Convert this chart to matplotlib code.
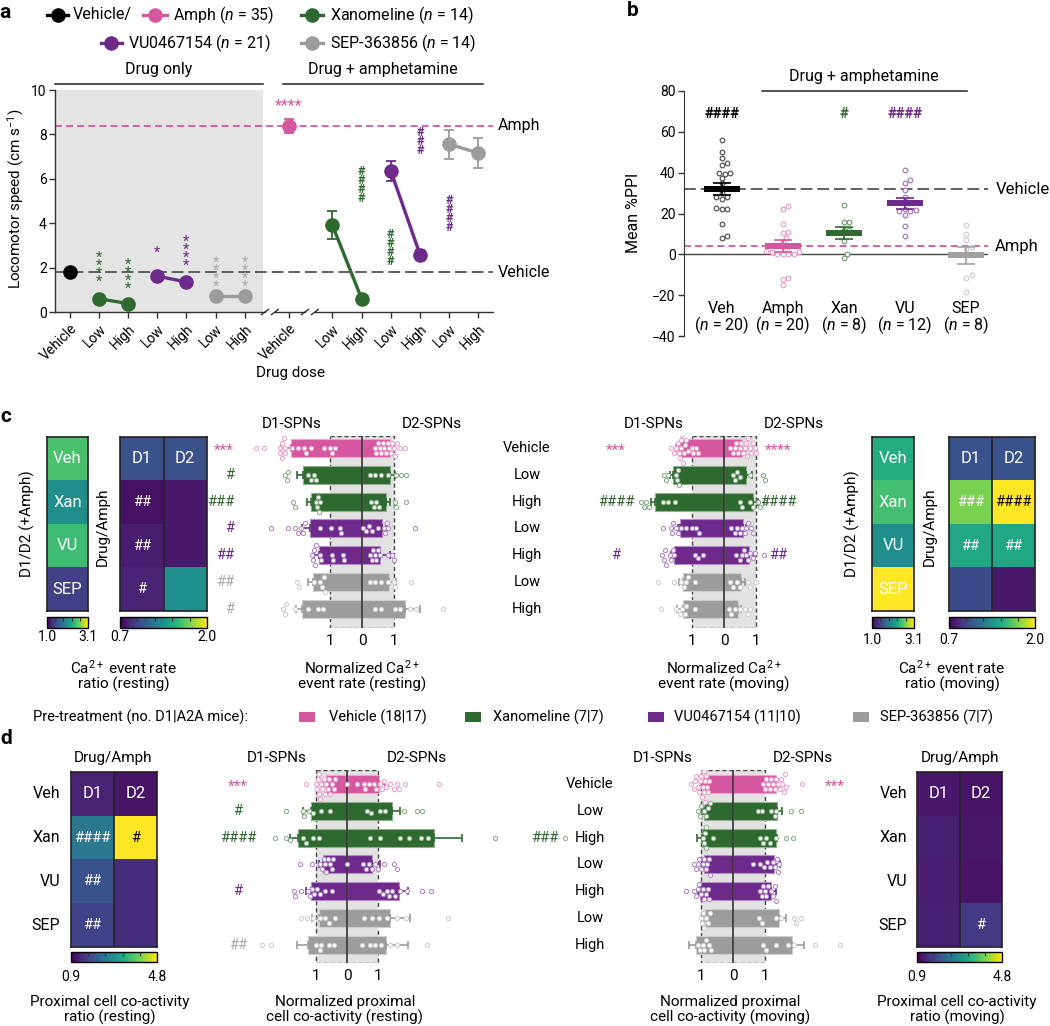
import numpy as np
import matplotlib
matplotlib.use('Agg')
import matplotlib.pyplot as plt
from matplotlib.lines import Line2D
from matplotlib.patches import Rectangle
from matplotlib.cm import ScalarMappable
from matplotlib.colors import Normalize

plt.rcParams['font.family'] = ['Roboto', 'DejaVu Sans']
plt.rcParams['mathtext.fontset'] = 'custom'
plt.rcParams['mathtext.rm'] = 'Roboto'
plt.rcParams['mathtext.it'] = 'Roboto:italic'
plt.rcParams['mathtext.bf'] = 'Roboto:bold'
plt.rcParams['lines.scale_dashes'] = False
plt.rcParams['axes.unicode_minus'] = True

# ---------------- DATA ----------------
# Panel a
a_positions = [0, 1, 2, 3, 4, 5, 6, 7.5, 9, 10, 11, 12, 13, 14]
a_ticklabels = ['Vehicle', 'Low', 'High', 'Low', 'High', 'Low', 'High',
                'Vehicle', 'Low', 'High', 'Low', 'High', 'Low', 'High']
a_vehicle = 1.8
a_only_xan = [0.6, 0.38]
a_only_vu = [1.62, 1.35]
a_only_sep = [0.71, 0.71]
a_amph = 8.38
a_amph_err = 0.3
a_amph_xan = [3.91, 0.6]
a_amph_xan_err = [0.63, 0.08]
a_amph_vu = [6.36, 2.59]
a_amph_vu_err = [0.44, 0.2]
a_amph_sep = [7.56, 7.16]
a_amph_sep_err = [0.66, 0.66]

# Panel b
b_groups = ['Veh', 'Amph', 'Xan', 'VU', 'SEP']
b_n = [20, 20, 8, 12, 8]
b_means = [32, 4, 10.5, 25, -0.5]
b_sem = [3.0, 2.8, 3.0, 2.6, 4.2]
b_veh_pts = [56, 50, 47, 44.5, 44, 40, 40, 39.5, 37.5, 35, 30, 28, 28, 27, 22.5, 22, 22, 15, 8, 9]
b_amph_pts = [23.5, 22, 15, 11, 10.5, 8, 6, 4, 3.5, 3.5, 1.5, 1, 1, 0, 0, 0, 0, -11.5, -12, -15]
b_xan_pts = [24, 16, 16, 12, 12, 6.5, 0, -2]
b_vu_pts = [41.5, 36.5, 35, 31.5, 28, 22, 21.5, 21, 21, 19.5, 14, 9]
b_sep_pts = [14.5, 10, 7, 3.5, 2.5, -10, -11.5, -18.5]

# Panel c/d rows
row_labels = ['Vehicle', 'Low', 'High', 'Low', 'High', 'Low', 'High']
heat_rows = ['Veh', 'Xan', 'VU', 'SEP']

# Panel c heatmaps
c_rest_ratio = [2.5, 2.05, 2.45, 1.4]
c_rest_drug = [[1.02, 1.02], [0.76, 0.79], [0.80, 0.79], [0.83, 1.35]]
c_mov_ratio = [2.3, 2.47, 2.05, 3.1]
c_mov_drug = [[1.03, 1.03], [1.74, 2.0], [1.48, 1.48], [0.99, 0.79]]
# Panel d heatmaps
d_rest_drug = [[1.29, 1.1], [2.46, 4.8], [1.88, 1.41], [1.68, 1.41]]
d_mov_drug = [[1.15, 1.1], [1.25, 1.15], [1.2, 1.1], [1.25, 1.56]]

# Panel c resting butterfly
c_rest_d1 = [-2.21, -1.84, -1.58, -1.625, -1.34, -1.53, -1.875]
c_rest_d1_sem = [0.31, 0.19, 0.13, 0.25, 0.16, 0.16, 0.175]
c_rest_d2 = [0.885, 0.86, 0.74, 0.625, 0.57, 0.83, 1.35]
c_rest_d2_sem = [0.12, 0.17, 0.13, 0.13, 0.3, 0.22, 0.45]
c_rest_d1_pts = [
    [-3.3, -3.05, -2.55, -2.55, -2.5, -2.5, -2.45, -2.4, -2.4, -2.2, -2.0, -1.8, -1.75, -1.6, -1.2, -1.0, -0.95, -0.85],
    [-2.42, -2.35, -2.3, -1.7, -1.6, -1.5, -1.45],
    [-2.16, -2.1, -1.45, -1.4, -1.38, -1.35, -1.3],
    [-2.83, -2.31, -2.1, -2.0, -1.9, -1.84, -1.79, -1.32, -0.98, -0.7, -0.67],
    [-1.55, -1.53, -1.5, -1.48, -1.45, -1.3, -1.27, -0.95, -0.9, -0.6, -0.55],
    [-2.02, -1.98, -1.5, -1.3, -1.24, -1.2, -1.17],
    [-2.47, -2.4, -2.36, -2.1, -1.7, -1.38, -1.22]]
c_rest_d2_pts = [
    [0.4, 0.45, 0.5, 0.55, 0.6, 0.65, 0.7, 0.75, 0.8, 0.85, 0.9, 0.95, 1.0, 1.02, 1.1, 1.18, 1.33],
    [0.24, 0.4, 0.6, 0.81, 1.07, 1.23, 1.39],
    [0.29, 0.375, 0.45, 0.52, 1.02, 1.05, 1.39],
    [0.02, 0.14, 0.22, 0.3, 0.5, 0.68, 0.72, 0.78, 0.82, 1.67],
    [0.24, 0.3, 0.34, 0.4, 0.45, 0.5, 0.55, 0.8, 0.95, 1.0],
    [0.26, 0.4, 0.58, 0.8, 1.0, 1.02, 1.52],
    [0.4, 0.6, 1.04, 1.2, 1.5, 1.7, 2.53]]

# Panel c moving butterfly
c_mov_d1 = [-1.41, -1.59, -2.15, -1.36, -1.57, -1.28, -1.29]
c_mov_d1_sem = [0.08, 0.09, 0.12, 0.08, 0.08, 0.14, 0.17]
c_mov_d2 = [0.57, 0.70, 0.91, 0.59, 0.78, 0.53, 0.44]
c_mov_d2_sem = [0.11, 0.17, 0.15, 0.11, 0.18, 0.12, 0.10]
c_mov_d1_pts = [
    [-1.65, -1.55, -1.5, -1.45, -1.41, -1.38, -1.35, -1.33, -1.3, -1.28, -1.25, -1.23, -1.18, -1.13, -1.0, -0.97, -0.86, -0.81],
    [-1.89, -1.82, -1.75, -1.5, -1.47, -1.44, -1.4],
    [-2.58, -2.5, -2.43, -2.35, -1.9, -1.75, -1.54],
    [-1.9, -1.65, -1.62, -1.59, -1.51, -1.45, -1.33, -1.18, -1.0, -0.86, -0.78],
    [-1.93, -1.89, -1.85, -1.8, -1.7, -1.65, -1.6, -1.55, -0.92, -0.8, -0.66],
    [-2.06, -1.56, -1.33, -1.25, -1.18, -1.13, -0.92],
    [-1.96, -1.49, -1.39, -1.3, -1.23, -1.18, -0.92]]
c_mov_d2_pts = [
    [0.2, 0.28, 0.35, 0.39, 0.45, 0.49, 0.54, 0.6, 0.65, 0.7, 0.72, 0.75, 0.8, 0.85, 0.9, 0.96, 1.01],
    [0.28, 0.33, 0.4, 0.49, 0.8, 1.22, 1.27],
    [0.49, 0.55, 0.8, 0.9, 1.06, 1.11, 1.27],
    [0.23, 0.33, 0.4, 0.49, 0.55, 0.65, 0.7, 0.75, 0.85, 0.91],
    [0.39, 0.49, 0.55, 0.61, 0.7, 0.75, 0.82, 0.9, 0.96, 1.24],
    [0.18, 0.28, 0.4, 0.49, 0.75, 0.8, 0.99],
    [0.16, 0.23, 0.33, 0.5, 0.65, 0.75, 0.82]]

# Panel d resting butterfly
d_rest_d1 = [-0.67, -1.16, -1.59, -0.77, -1.16, -0.91, -1.25]
d_rest_d1_sem = [0.1, 0.26, 0.24, 0.13, 0.15, 0.22, 0.36]
d_rest_d2 = [1.04, 1.45, 2.82, 0.82, 1.67, 1.40, 1.26]
d_rest_d2_sem = [0.2, 0.27, 0.89, 0.23, 0.29, 0.64, 0.70]
d_rest_d1_pts = [
    [-1.31, -0.99, -0.97, -0.95, -0.91, -0.9, -0.86, -0.84, -0.81, -0.75, -0.7, -0.67, -0.62, -0.59, -0.55, -0.48, -0.42, -0.38],
    [-1.96, -1.42, -1.38, -1.24, -1.1, -0.83, -0.54],
    [-2.31, -1.96, -1.83, -1.42, -1.31, -1.1, -0.91],
    [-1.53, -1.13, -0.86, -0.8, -0.75, -0.7, -0.67, -0.6, -0.54, -0.5, -0.45],
    [-1.7, -1.67, -1.5, -1.27, -1.18, -1.13, -1.05, -0.97, -0.88, -0.7, -0.48],
    [-1.48, -1.29, -1.1, -0.86, -0.7, -0.59, -0.38],
    [-2.74, -2.45, -0.99, -0.88, -0.84, -0.59, -0.43]]
d_rest_d2_pts = [
    [0.0, 0.32, 0.54, 0.59, 0.7, 0.86, 0.95, 1.05, 1.13, 1.18, 1.25, 1.4, 1.51, 1.6, 1.67, 1.88, 2.96],
    [0.65, 0.77, 1.08, 1.24, 1.83, 2.26, 2.42],
    [0.73, 1.05, 1.72, 1.99, 2.39, 2.6, 4.78],
    [0.0, 0.52, 0.62, 0.7, 0.81, 0.9, 1.0, 1.2, 1.51, 1.61],
    [1.02, 1.16, 1.29, 1.35, 1.45, 1.56, 1.7, 1.94, 2.42, 2.71],
    [0.54, 0.81, 1.02, 1.3, 1.6, 1.9, 3.25],
    [0.48, 0.73, 0.9, 1.1, 1.4, 1.6, 2.58]]

# Panel d moving butterfly
d_mov_d1 = [-0.94, -0.91, -0.97, -0.91, -1.02, -0.89, -1.15]
d_mov_d1_sem = [0.06, 0.05, 0.14, 0.07, 0.08, 0.06, 0.23]
d_mov_d2 = [1.33, 1.375, 1.33, 1.28, 1.2, 1.44, 1.84]
d_mov_d2_sem = [0.08, 0.17, 0.06, 0.2, 0.15, 0.23, 0.38]
d_mov_d1_pts = [
    [-1.3, -1.23, -1.18, -1.15, -1.1, -1.06, -1.03, -0.99, -0.97, -0.94, -0.92, -0.9, -0.89, -0.86, -0.83, -0.8, -0.78, -0.75],
    [-1.09, -1.04, -0.99, -0.9, -0.83, -0.78, -0.73],
    [-5.26, -0.94, -0.9, -0.89, -0.85, -0.83, -0.63],
    [-1.23, -1.17, -1.09, -1.05, -0.99, -0.94, -0.9, -0.83, -0.8, -0.76, -0.73],
    [-1.46, -1.23, -1.15, -1.1, -1.06, -1.0, -0.94, -0.9, -0.83, -0.79, -0.75],
    [-0.99, -0.96, -0.94, -0.9, -0.83, -0.78, -0.73],
    [-1.09, -1.04, -0.94, -0.9, -0.83, -0.75, -0.68]]
d_mov_d2_pts = [
    [0.94, 1.0, 1.04, 1.1, 1.15, 1.2, 1.25, 1.3, 1.35, 1.4, 1.46, 1.5, 1.54, 1.58, 1.61, 1.67, 2.17],
    [0.78, 0.92, 1.2, 1.3, 1.35, 1.82, 2.14],
    [0.83, 0.94, 1.04, 1.15, 1.35, 1.65, 1.875],
    [0.625, 0.83, 0.96, 1.05, 1.15, 1.25, 1.3, 1.375, 1.41, 1.45],
    [0.83, 0.9, 0.94, 1.0, 1.04, 1.1, 1.2, 1.25, 1.3, 1.33],
    [0.81, 0.92, 1.35, 1.5, 1.9, 1.98, 2.14],
    [0.94, 1.04, 1.35, 1.72, 1.9, 2.55, 3.33]]

legend_items = ['Vehicle (18|17)', 'Xanomeline (7|7)', 'VU0467154 (11|10)', 'SEP-363856 (7|7)']

# ---------------- STYLE ----------------
PINK = '#d4579f'
GREEN = '#2e6a30'
PURPLE = '#6d2a8a'
GRAY = '#9c9c9c'
PINK_L = '#eba6cf'
GREEN_L = '#8fb08f'
PURPLE_L = '#b68bca'
GRAY_L = '#cfcfcf'
GRAYS = '#aaaaaa'
row_colors = [PINK, GREEN, GREEN, PURPLE, PURPLE, GRAY, GRAY]
row_light = [PINK_L, GREEN_L, GREEN_L, PURPLE_L, PURPLE_L, GRAY_L, GRAY_L]
DARK = '#222222'

W, H = 1050, 1026
fig = plt.figure(figsize=(W / 100, H / 100), dpi=100)


def R(l, t, r, b):
    return [l / W, 1 - b / H, (r - l) / W, (b - t) / H]


def ftext(x, y, s, **kw):
    kw.setdefault('ha', 'center')
    kw.setdefault('va', 'center')
    return fig.text(x / W, 1 - y / H, s, **kw)


def fline(xs, ys, **kw):
    fig.add_artist(Line2D([x / W for x in xs], [1 - y / H for y in ys],
                          transform=fig.transFigure, **kw))


def swarm(vals, px_per_val, diam=4.8):
    placed = []
    offs = [0.0] * len(vals)
    order = sorted(range(len(vals)), key=lambda k: vals[k])
    for k in order:
        v = vals[k] * px_per_val
        cand = 0.0
        for j in range(60):
            cand = 0.0 if j == 0 else ((j + 1) // 2) * diam * 0.55 * (1 if j % 2 else -1)
            if all((v - pv) ** 2 + (cand - po) ** 2 >= (diam * 0.95) ** 2 for pv, po in placed):
                break
        placed.append((v, cand))
        offs[k] = cand
    return offs


def stack(s):
    return '\n'.join(list(s))


# ================= PANEL a =================
axA = fig.add_axes(R(55, 90, 493, 312))
axA.set_xlim(-0.5, 14.5)
axA.set_ylim(0, 10)
axA.axvspan(-0.5, 6.62, color='#e4e4e4', zorder=0, lw=0)
for s in ['top', 'right', 'bottom']:
    axA.spines[s].set_visible(False)
axA.spines['left'].set_color('#333')
axA.spines['left'].set_linewidth(1.0)
axA.set_yticks([0, 2, 4, 6, 8, 10])
axA.tick_params(axis='y', labelsize=10, length=4, width=1, color='#333', pad=2)
axA.set_xticks(a_positions)
axA.set_xticklabels(a_ticklabels, rotation=45, ha='right', va='top', rotation_mode='anchor', fontsize=10)
axA.tick_params(axis='x', length=4, width=1, color='#333', pad=3)
# broken x axis
for x0, x1 in [(-0.5, 6.69), (7.03, 8.06), (8.40, 14.5)]:
    axA.plot([x0, x1], [0, 0], color='#333', lw=1.0, clip_on=False, zorder=5)
for xc in [6.69, 7.03, 8.06, 8.40]:
    axA.plot([xc - 0.12, xc + 0.12], [-0.12, 0.12], color='#333', lw=1.0, clip_on=False, zorder=5)
# reference lines
axA.axhline(a_amph, color=PINK, lw=1.3, dashes=(5, 3), zorder=1)
axA.axhline(a_vehicle, color='#555', lw=1.3, dashes=(8.5, 3.5), zorder=1)
axA.text(14.67, a_amph, 'Amph', ha='left', va='center', fontsize=11.5, clip_on=False)
axA.text(14.67, a_vehicle, 'Vehicle', ha='left', va='center', fontsize=11.5, clip_on=False)

mk = dict(marker='o', ms=9.5, lw=2.4, capsize=3.6, elinewidth=1.3, capthick=1.3, zorder=4)
axA.plot([a_positions[0]], [a_vehicle], 'o', color='black', ms=9.5, zorder=4)
axA.errorbar(a_positions[1:3], a_only_xan, color=GREEN, **mk)
axA.errorbar(a_positions[3:5], a_only_vu, color=PURPLE, **mk)
axA.errorbar(a_positions[5:7], a_only_sep, color=GRAY, **mk)
axA.errorbar([a_positions[7]], [a_amph], yerr=[a_amph_err], color=PINK, **mk)
axA.errorbar(a_positions[8:10], a_amph_xan, yerr=a_amph_xan_err, color=GREEN, **mk)
axA.errorbar(a_positions[10:12], a_amph_vu, yerr=a_amph_vu_err, color=PURPLE, **mk)
axA.errorbar(a_positions[12:14], a_amph_sep, yerr=a_amph_sep_err, color=GRAY, **mk)

sig_a = [(1, 2.03, '****', GREEN), (2, 1.7, '****', GREEN), (3, 2.78, '*', PURPLE),
         (4, 2.75, '****', PURPLE), (5, 1.8, '****', GRAYS), (6, 1.8, '****', GRAYS),
         (9, 5.7, '####', GREEN), (10, 2.9, '####', GREEN), (11, 7.67, '###', PURPLE),
         (12, 4.4, '####', PURPLE)]
for xi, yi, s, c in sig_a:
    if s[0] == '*':
        axA.text(a_positions[xi], yi - 0.12, stack(s), ha='center', va='center', color=c,
                 fontsize=10.5, linespacing=0.45, zorder=6)
    else:
        axA.text(a_positions[xi], yi, stack(s), ha='center', va='center', color=c,
                 fontsize=9, linespacing=0.6, fontweight='bold', zorder=6)
axA.text(a_positions[7], 9.3, '****', ha='center', va='center', color=PINK, fontsize=11.5)

ftext(16, 199, 'Locomotor speed (cm s$^{-1}$)', rotation=90, fontsize=11)
ftext(290, 373, 'Drug dose', fontsize=11)
ftext(159, 70, 'Drug only', fontsize=11.5)
ftext(383, 70, 'Drug + amphetamine', fontsize=11.5)
fline([55, 263], [84, 84], color=DARK, lw=1.1)
fline([283, 483], [84, 84], color=DARK, lw=1.1)

# legend of panel a
leg = [(47, 68, 58, 15, 'black', 'Vehicle/', 73),
       (143, 167, 155, 15, PINK, 'Amph ($\\mathit{n}$ = 35)', 173),
       (301, 323, 312, 15, GREEN, 'Xanomeline ($\\mathit{n}$ = 14)', 330),
       (101, 122, 111, 43, PURPLE, 'VU0467154 ($\\mathit{n}$ = 21)', 128),
       (301, 323, 312, 43, GRAY, 'SEP-363856 ($\\mathit{n}$ = 14)', 330)]
for x0, x1, xm, y, c, lab, xt in leg:
    fline([x0, x1], [y, y], color=c, lw=2.4)
    fline([xm], [y], color=c, marker='o', ms=9.5, lw=0)
    ftext(xt, y, lab, ha='left', fontsize=11.5)
ftext(5, 13, 'a', fontsize=15, fontweight='bold')

# ================= PANEL b =================
axB = fig.add_axes(R(684, 91, 988, 336))
axB.set_xlim(-0.62, 4.36)
axB.set_ylim(-40, 80)
for s in ['top', 'right', 'bottom']:
    axB.spines[s].set_visible(False)
axB.spines['left'].set_color('#333')
axB.set_xticks([])
axB.set_yticks([-40, -20, 0, 20, 40, 60, 80])
axB.tick_params(axis='y', labelsize=10, length=4, width=1, color='#333', pad=2)
axB.axhline(0, color='#444', lw=1.0, zorder=1)
axB.axhline(b_means[0], color='#555', lw=1.3, dashes=(8.5, 3.5), zorder=1)
axB.axhline(b_means[1], color=PINK, lw=1.3, dashes=(5, 3), zorder=1)
axB.text(4.48, b_means[0], 'Vehicle', ha='left', va='center', fontsize=12, clip_on=False)
axB.text(4.48, b_means[1], 'Amph', ha='left', va='center', fontsize=12, clip_on=False)

b_pts = [b_veh_pts, b_amph_pts, b_xan_pts, b_vu_pts, b_sep_pts]
b_colors = ['black', PINK, GREEN, PURPLE, '#a0a0a0']
b_edge = ['#555555', '#e9a0cb', '#78a078', '#a77bbf', '#cfcfcf']
for i in range(5):
    offs = swarm(b_pts[i], 2.04, diam=5.0)
    axB.scatter([i + o / 61.0 for o in offs], b_pts[i], s=11, facecolor='white',
                edgecolor=b_edge[i], lw=0.9, zorder=3)
    axB.plot([i - 0.3, i + 0.3], [b_means[i], b_means[i]], color=b_colors[i], lw=4.3,
             solid_capstyle='butt', zorder=4)
    axB.errorbar([i], [b_means[i]], yerr=[b_sem[i]], color=b_colors[i], lw=0, elinewidth=1.2,
                 capsize=6.5, capthick=1.2, zorder=5)
    axB.text(i, -26.5, b_groups[i], ha='center', va='center', fontsize=11.5)
    axB.text(i, -34.8, '($\\mathit{n}$ = %d)' % b_n[i], ha='center', va='center', fontsize=11.5)
axB.text(0, 68.5, '####', ha='center', va='center', fontsize=10.5, color='black', fontweight='bold')
axB.text(2, 68.5, '#', ha='center', va='center', fontsize=10.5, color=GREEN, fontweight='bold')
axB.text(3, 68.5, '####', ha='center', va='center', fontsize=10.5, color=PURPLE, fontweight='bold')
ftext(864, 77, 'Drug + amphetamine', fontsize=11.5)
fline([762, 967], [91, 91], color=DARK, lw=1.1)
ftext(634, 213, 'Mean %PPI', rotation=90, fontsize=11.5)
ftext(633, 10, 'b', fontsize=15, fontweight='bold')


# ================= heatmaps =================
def heatmap(rect, data, vmin, vmax, texts, tcolors, cbar_rect, cbar_labels, cb_pad):
    ax = fig.add_axes(R(*rect))
    arr = np.array(data, dtype=float)
    if arr.ndim == 1:
        arr = arr[:, None]
    ax.imshow(arr, cmap='viridis', vmin=vmin, vmax=vmax, aspect='auto', interpolation='nearest')
    ax.set_xticks([])
    ax.set_yticks([])
    for s in ax.spines.values():
        s.set_linewidth(1.2)
        s.set_color(DARK)
    if arr.shape[1] == 2:
        ax.axvline(0.5, color=DARK, lw=1.2)
    for (r, c), t in texts.items():
        col = tcolors.get((r, c), 'white')
        fs = 12 if t[0] != '#' else 10.5
        ax.text(c, r, t, ha='center', va='center', color=col, fontsize=fs)
    cax = fig.add_axes(R(*cbar_rect))
    cb = fig.colorbar(ScalarMappable(Normalize(vmin, vmax), 'viridis'), cax=cax, orientation='horizontal')
    cb.set_ticks([vmin, vmax], labels=cbar_labels)
    cb.outline.set_linewidth(1.0)
    cax.tick_params(which='major', length=0, labelsize=10, pad=cb_pad)
    cax.set_xticks(list(np.linspace(vmin, vmax, 6)[1:-1]), minor=True)
    cax.tick_params(which='minor', direction='in', length=3, top=True, bottom=False, width=0.8, color='#333')
    return ax


# panel c left
heatmap((47, 437, 88, 611), c_rest_ratio, 1.0, 3.1,
        {(i, 0): heat_rows[i] for i in range(4)}, {}, (47, 617, 88, 628), ['1.0', '3.1'], 1.5)
heatmap((120, 437, 207, 611), c_rest_drug, 0.7, 2.0,
        {(0, 0): 'D1', (0, 1): 'D2', (1, 0): '##', (2, 0): '##', (3, 0): '#'}, {},
        (120, 617, 207, 628), ['0.7', '2.0'], 1.5)
ftext(27, 524, 'D1/D2 (+Amph)', rotation=90, fontsize=11)
ftext(103, 527, 'Drug/Amph', rotation=90, fontsize=11)
ftext(124, 675, 'Ca$^{2+}$ event rate\nratio (resting)', fontsize=11, linespacing=1.0)
# panel c right
heatmap((872, 437, 914, 611), c_mov_ratio, 1.0, 3.1,
        {(i, 0): heat_rows[i] for i in range(4)}, {}, (872, 617, 914, 628), ['1.0', '3.1'], 3.5)
heatmap((949, 437, 1035, 611), c_mov_drug, 0.7, 2.0,
        {(0, 0): 'D1', (0, 1): 'D2', (1, 0): '###', (1, 1): '####', (2, 0): '##', (2, 1): '##'},
        {(1, 1): 'black'}, (949, 617, 1035, 628), ['0.7', '2.0'], 3.5)
ftext(852, 524, 'D1/D2 (+Amph)', rotation=90, fontsize=11)
ftext(930, 527, 'Drug/Amph', rotation=90, fontsize=11)
ftext(952, 675, 'Ca$^{2+}$ event rate\nratio (moving)', fontsize=11, linespacing=1.0)
ftext(6, 417, 'c', fontsize=15, fontweight='bold')

# panel d heatmaps
heatmap((71, 772, 157, 947), d_rest_drug, 0.9, 4.8,
        {(0, 0): 'D1', (0, 1): 'D2', (1, 0): '####', (1, 1): '#', (2, 0): '##', (3, 0): '##'},
        {(1, 1): 'black'}, (71, 952, 157, 962), ['0.9', '4.8'], 6)
for i, lab in enumerate(heat_rows):
    ftext(60, 794 + 43.75 * i, lab, ha='right', fontsize=11.5)
ftext(113, 758, 'Drug/Amph', fontsize=11)
ftext(110, 1010, 'Proximal cell co-activity\nratio (resting)', fontsize=11, linespacing=1.0)
heatmap((917, 772, 1002, 947), d_mov_drug, 0.9, 4.8,
        {(0, 0): 'D1', (0, 1): 'D2', (3, 1): '#'}, {}, (917, 952, 1002, 962), ['0.9', '4.8'], 6)
for i, lab in enumerate(heat_rows):
    ftext(907, 794 + 43.75 * i, lab, ha='right', fontsize=11.5)
ftext(960, 758, 'Drug/Amph', fontsize=11)
ftext(957, 1010, 'Proximal cell co-activity\nratio (moving)', fontsize=11, linespacing=1.0)
ftext(6, 738, 'd', fontsize=15, fontweight='bold')


# ================= butterflies =================
def butterfly(lpx, rpx, cpx, ppu, top, bot, row0, d1, d1s, d2, d2s, p1, p2):
    step = 26.8
    ax = fig.add_axes(R(lpx, top, rpx, bot))
    ax.patch.set_alpha(0)
    ax.set_xlim((lpx - cpx) / ppu, (rpx - cpx) / ppu)
    y_top = (top - row0) / step
    y_bot = (bot - row0) / step
    ax.set_ylim(y_bot, y_top)
    for s in ax.spines.values():
        s.set_visible(False)
    ax.add_patch(Rectangle((-1, y_top), 2, y_bot - y_top, facecolor='#e2e2e2', edgecolor='none', zorder=0))
    ax.add_patch(Rectangle((-1, y_top), 2, y_bot - y_top, facecolor='none', edgecolor='#444',
                           lw=1.0, ls=(0, (3, 2)), zorder=0.8))
    for i in range(7):
        c, cl = row_colors[i], row_light[i]
        ax.barh(i, d1[i], height=0.67, color=c, edgecolor=cl, lw=0.8, zorder=1)
        ax.barh(i, d2[i], height=0.67, color=c, edgecolor=cl, lw=0.8, zorder=1)
        ax.errorbar([d1[i]], [i], xerr=[[d1s[i]], [0]], color=c, lw=0, elinewidth=1.2,
                    capsize=2.9, capthick=1.2, zorder=1.5)
        ax.errorbar([d2[i]], [i], xerr=[[0], [d2s[i]]], color=c, lw=0, elinewidth=1.2,
                    capsize=2.9, capthick=1.2, zorder=1.5)
        for pts in (p1[i], p2[i]):
            offs = swarm(pts, ppu, diam=4.6)
            ax.scatter(pts, [i + o / step for o in offs], s=9, facecolor='white', edgecolor=cl,
                       lw=0.8, zorder=4)
    ax.axvline(0, color='#333', lw=1.2, zorder=3)
    ax.set_yticks([])
    ax.set_xticks([-1, 0, 1])
    ax.set_xticklabels(['1', '0', '1'], fontsize=11)
    ax.tick_params(axis='x', length=0, pad=4.5)
    return ax


butterfly(240, 480, 362, 32, 436, 628, 448, c_rest_d1, c_rest_d1_sem, c_rest_d2, c_rest_d2_sem,
          c_rest_d1_pts, c_rest_d2_pts)
butterfly(620, 830, 724, 32, 436, 628, 448, c_mov_d1, c_mov_d1_sem, c_mov_d2, c_mov_d2_sem,
          c_mov_d1_pts, c_mov_d2_pts)
butterfly(230, 520, 347, 31, 770, 963, 784, d_rest_d1, d_rest_d1_sem, d_rest_d2, d_rest_d2_sem,
          d_rest_d1_pts, d_rest_d2_pts)
butterfly(550, 845, 733, 32, 770, 963, 784, d_mov_d1, d_mov_d1_sem, d_mov_d2, d_mov_d2_sem,
          d_mov_d1_pts, d_mov_d2_pts)

for cx, y in [(362, 424), (724, 424), (347, 758), (733, 758)]:
    ftext(cx - 70, y, 'D1-SPNs', fontsize=11)
    ftext(cx + 70, y, 'D2-SPNs', fontsize=11)
for i, lab in enumerate(row_labels):
    ftext(527, 448 + 26.8 * i, lab, fontsize=10.5)
    ftext(590, 784 + 26.8 * i, lab, fontsize=10.5)
ftext(362, 675, 'Normalized Ca$^{2+}$\nevent rate (resting)', fontsize=11, linespacing=1.0)
ftext(724, 675, 'Normalized Ca$^{2+}$\nevent rate (moving)', fontsize=11, linespacing=1.0)
ftext(345, 1010, 'Normalized proximal\ncell co-activity (resting)', fontsize=11, linespacing=1.0)
ftext(730, 1010, 'Normalized proximal\ncell co-activity (moving)', fontsize=11, linespacing=1.0)


def sig(x, y, s, c, ha='center'):
    dy = 3 if s[0] == '*' else 0
    ftext(x, y + dy, s, color=c, ha=ha, fontsize=11 if s[0] == '*' else 10.5)


cy = [448 + 26.8 * i for i in range(7)]
dy_ = [784 + 26.8 * i for i in range(7)]
for r, s, c in [(0, '***', PINK), (1, '#', GREEN), (2, '###', GREEN), (3, '#', PURPLE),
                (4, '##', PURPLE), (5, '##', GRAYS), (6, '#', GRAYS)]:
    sig(234, cy[r], s, c, ha='right')
for r, s, c in [(0, '***', PINK), (2, '####', GREEN), (4, '#', PURPLE)]:
    sig(616, cy[r], s, c)
for r, s, c in [(0, '****', PINK), (2, '####', GREEN), (4, '##', PURPLE)]:
    sig(778, cy[r], s, c)
for r, s, c in [(0, '***', PINK), (1, '#', GREEN), (2, '####', GREEN), (4, '#', PURPLE), (6, '##', GRAYS)]:
    sig(238, dy_[r], s, c)
sig(545, dy_[2], '###', GREEN)
sig(835, dy_[0], '***', PINK)

# legend row
ftext(33, 717, 'Pre-treatment (no. D1|A2A mice):', ha='left', fontsize=10.5)
for xs, xt, c, lab in [(307, 329, PINK, legend_items[0]), (473, 493, GREEN, legend_items[1]),
                       (656, 674, PURPLE, legend_items[2]), (861, 880, GRAY, legend_items[3])]:
    fig.add_artist(Rectangle(((xs - 8) / W, 1 - 722 / H), 16 / W, 10 / H, facecolor=c,
                             edgecolor='none', transform=fig.transFigure))
    ftext(xt, 717, lab, ha='left', fontsize=10.5)

fig.savefig('out.png', dpi=100)
